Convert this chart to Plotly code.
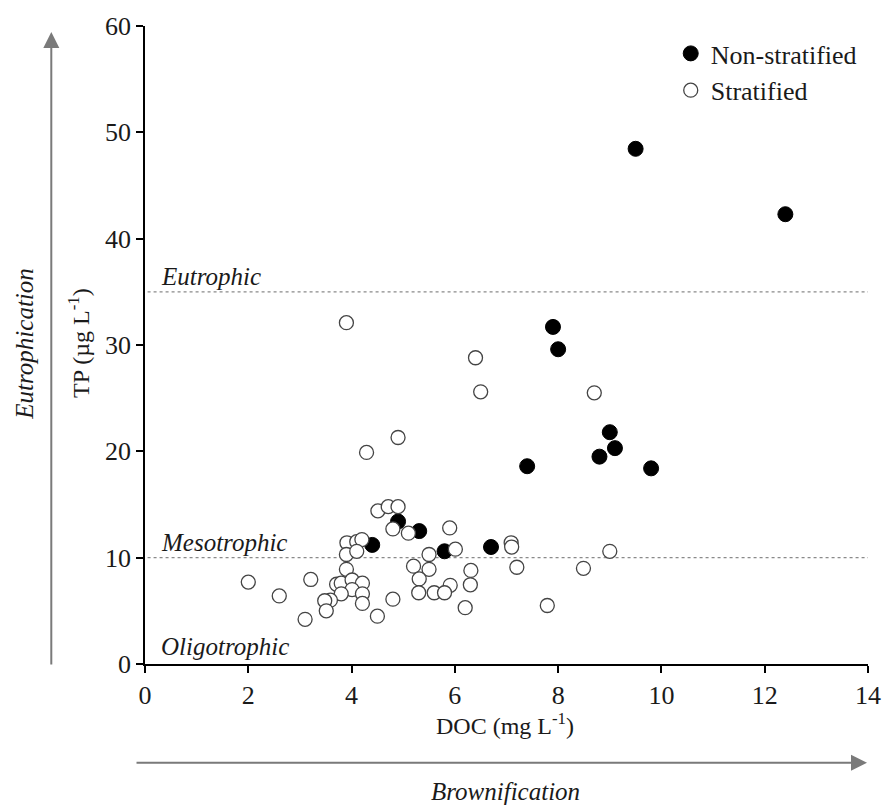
import plotly.graph_objects as go

# DOC (mg L-1) and TP (ug L-1) for non-stratified lakes
nonstrat_doc = [9.50, 12.40, 7.90, 8.00, 9.00, 9.10, 8.80, 7.40, 9.80, 4.90, 5.31, 4.40, 5.80, 6.70]
nonstrat_tp = [48.45, 42.3, 31.7, 29.6, 21.8, 20.3, 19.5, 18.6, 18.4, 13.4, 12.5, 11.2, 10.6, 11.0]

# DOC (mg L-1) and TP (ug L-1) for stratified lakes
strat_doc = [3.90, 6.40, 6.50, 8.70, 4.90, 4.29, 4.51, 4.71, 4.90, 4.80, 5.10, 5.90,
             3.91, 4.10, 4.20, 3.90, 4.10, 6.01, 7.09, 7.10, 9.00, 5.50, 3.90, 5.20,
             5.50, 7.20, 8.49, 6.31, 2.00, 3.21, 2.60, 3.10, 3.71, 3.80, 4.01, 4.21,
             4.01, 3.80, 3.59, 3.48, 3.51, 4.21, 4.21, 4.50, 5.31, 5.91, 6.30, 5.30,
             5.60, 5.80, 4.80, 6.20, 7.79]
strat_tp = [32.1, 28.8, 25.6, 25.5, 21.3, 19.9, 14.4, 14.8, 14.8, 12.7, 12.3, 12.8,
            11.4, 11.5, 11.7, 10.3, 10.6, 10.8, 11.4, 11.0, 10.6, 10.3, 8.9, 9.2,
            8.9, 9.1, 9.0, 8.8, 7.7, 7.95, 6.4, 4.2, 7.5, 7.6, 7.9, 7.6,
            7.0, 6.6, 6.0, 5.95, 5.0, 6.6, 5.7, 4.5, 8.0, 7.4, 7.45, 6.7,
            6.7, 6.7, 6.1, 5.3, 5.5]

# Trophic state thresholds (TP, ug L-1)
threshold_tp = [35, 10]
threshold_names = ["Eutrophic", "Mesotrophic"]
lowest_state = "Oligotrophic"

x_ticks = [0, 2, 4, 6, 8, 10, 12, 14]
y_ticks = [0, 10, 20, 30, 40, 50, 60]

W, H = 893, 805
ML, MR, MT, MB = 145, 15, 24, 141
PW, PH = W - ML - MR, H - MT - MB
FONT = "Liberation Serif"


def px(xp):
    return (xp - ML) / PW


def py(yp):
    return (MT + PH - yp) / PH


fig = go.Figure()

fig.add_trace(go.Scatter(
    x=nonstrat_doc, y=nonstrat_tp, mode="markers", name="Non-stratified",
    legendrank=1,
    marker=dict(symbol="circle", size=15, color="black",
                line=dict(color="black", width=1)),
))
fig.add_trace(go.Scatter(
    x=strat_doc, y=strat_tp, mode="markers", name="Stratified",
    legendrank=2,
    marker=dict(symbol="circle", size=14, color="white",
                line=dict(color="#444444", width=1.3)),
))

# Trophic threshold lines
for tp in threshold_tp:
    fig.add_shape(type="line", xref="x", yref="y", x0=0.05, x1=x_ticks[-1],
                  y0=tp, y1=tp, line=dict(color="#8a8a8a", width=1.3, dash="dot"),
                  layer="below")

label_font = dict(family=FONT, size=25, color="#1a1a1a")
for tp, name in zip(threshold_tp, threshold_names):
    fig.add_annotation(x=0.28, y=tp, xref="x", yref="y", text=f"<i>{name}</i>",
                       showarrow=False, xanchor="left", yanchor="middle",
                       yshift=15, font=label_font)
fig.add_annotation(x=0.28, y=0, xref="x", yref="y", text=f"<i>{lowest_state}</i>",
                   showarrow=False, xanchor="left", yanchor="middle",
                   yshift=18, font=label_font)

# Axis titles
title_font = dict(family=FONT, size=24, color="#1a1a1a")
fig.add_annotation(x=px(78), y=py(342), xref="paper", yref="paper",
                   text="TP (µg L<sup>-1</sup>)", textangle=-90, showarrow=False,
                   xanchor="center", yanchor="middle", font=title_font)
fig.add_annotation(x=px(510), y=py(724), xref="paper", yref="paper",
                   text="DOC (mg L<sup>-1</sup>)", showarrow=False,
                   xanchor="center", yanchor="middle", font=title_font)

# Direction arrows with their labels
arrow_col = "#7a7a7a"
fig.add_annotation(x=px(50), y=py(30), xref="paper", yref="paper", text="",
                   showarrow=True, ax=0, ay=634, arrowhead=2, arrowsize=1.6,
                   arrowwidth=2, arrowcolor=arrow_col)
fig.add_annotation(x=px(877), y=py(763), xref="paper", yref="paper", text="",
                   showarrow=True, ax=-732, ay=0, arrowhead=2, arrowsize=1.6,
                   arrowwidth=2, arrowcolor=arrow_col)
fig.add_annotation(x=px(22), y=py(343), xref="paper", yref="paper",
                   text="<i>Eutrophication</i>", textangle=-90, showarrow=False,
                   xanchor="center", yanchor="middle", font=label_font)
fig.add_annotation(x=px(510), y=py(792), xref="paper", yref="paper",
                   text="<i>Brownification</i>", showarrow=False,
                   xanchor="center", yanchor="middle", font=label_font)

axis_common = dict(
    showgrid=False, zeroline=False, showline=True, linecolor="black",
    linewidth=1.5, ticks="outside", ticklen=7, tickwidth=1.5, tickcolor="black",
    tickfont=dict(family=FONT, size=26, color="#1a1a1a"),
)
fig.update_xaxes(range=[x_ticks[0], x_ticks[-1]], tickvals=x_ticks, **axis_common)
fig.update_yaxes(range=[y_ticks[0], y_ticks[-1]], tickvals=y_ticks, **axis_common)

fig.update_layout(
    width=W, height=H,
    margin=dict(l=ML, r=MR, t=MT, b=MB),
    paper_bgcolor="white", plot_bgcolor="white",
    showlegend=True,
    legend=dict(x=px(678), y=py(28), xanchor="left", yanchor="top",
                font=dict(family=FONT, size=26, color="#1a1a1a"),
                bgcolor="rgba(0,0,0,0)", tracegroupgap=0),
)

fig.write_html("out.html")
